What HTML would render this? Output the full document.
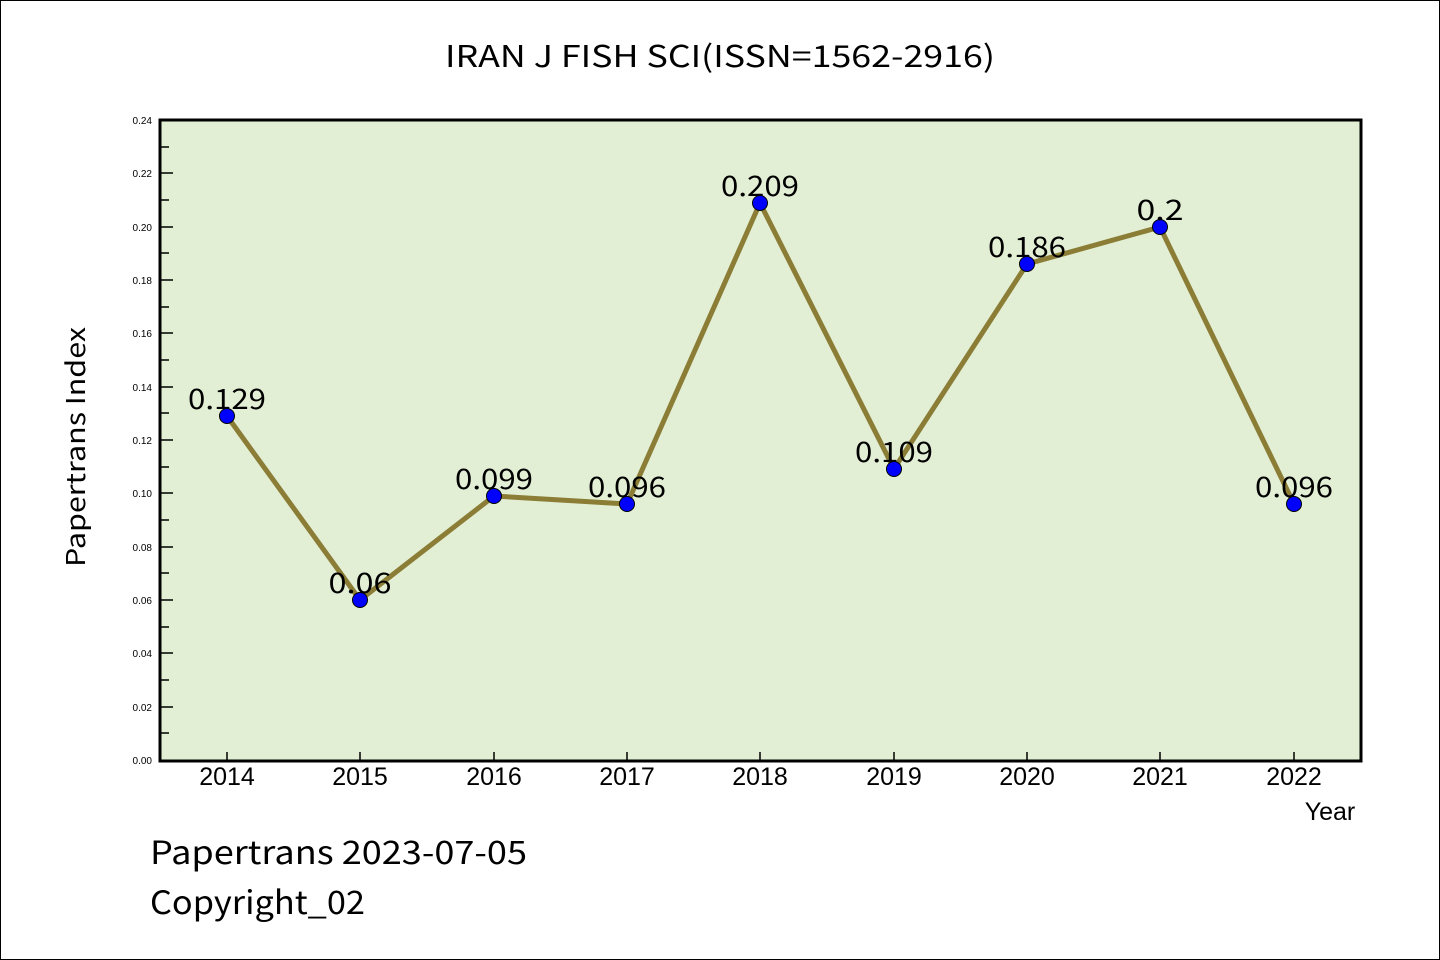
<!DOCTYPE html>
<html><head><meta charset="utf-8"><style>
html,body{margin:0;padding:0;background:#fff;}
svg{display:block;}
.m{font-family:"WenQuanYi Zen Hei","Noto Sans CJK SC",monospace;}
.s{font-family:"Liberation Sans",sans-serif;}
</style></head><body>
<svg width="1440" height="960" viewBox="0 0 1440 960" xmlns="http://www.w3.org/2000/svg">
<rect x="0.5" y="0.5" width="1439" height="959" fill="#fff" stroke="#000" stroke-width="1"/>
<text class="m" x="445" y="67" font-size="30" textLength="550" lengthAdjust="spacingAndGlyphs">IRAN J FISH SCI(ISSN=1562-2916)</text>
<rect x="160" y="120" width="1201" height="641" fill="#e2efd4"/>
<g stroke="#000" stroke-width="1.5">
<line x1="161" y1="147" x2="169" y2="147"/><line x1="161" y1="173" x2="173" y2="173"/>
<line x1="161" y1="200" x2="169" y2="200"/><line x1="161" y1="227" x2="173" y2="227"/>
<line x1="161" y1="253" x2="169" y2="253"/><line x1="161" y1="280" x2="173" y2="280"/>
<line x1="161" y1="307" x2="169" y2="307"/><line x1="161" y1="333" x2="173" y2="333"/>
<line x1="161" y1="360" x2="169" y2="360"/><line x1="161" y1="387" x2="173" y2="387"/>
<line x1="161" y1="413" x2="169" y2="413"/><line x1="161" y1="440" x2="173" y2="440"/>
<line x1="161" y1="467" x2="169" y2="467"/><line x1="161" y1="493" x2="173" y2="493"/>
<line x1="161" y1="520" x2="169" y2="520"/><line x1="161" y1="547" x2="173" y2="547"/>
<line x1="161" y1="573" x2="169" y2="573"/><line x1="161" y1="600" x2="173" y2="600"/>
<line x1="161" y1="627" x2="169" y2="627"/><line x1="161" y1="653" x2="173" y2="653"/>
<line x1="161" y1="680" x2="169" y2="680"/><line x1="161" y1="707" x2="173" y2="707"/>
<line x1="161" y1="733" x2="169" y2="733"/>
<line x1="227" y1="760" x2="227" y2="752"/><line x1="360" y1="760" x2="360" y2="752"/>
<line x1="494" y1="760" x2="494" y2="752"/><line x1="627" y1="760" x2="627" y2="752"/>
<line x1="760" y1="760" x2="760" y2="752"/><line x1="894" y1="760" x2="894" y2="752"/>
<line x1="1027" y1="760" x2="1027" y2="752"/><line x1="1160" y1="760" x2="1160" y2="752"/>
<line x1="1294" y1="760" x2="1294" y2="752"/>
</g>
<rect x="160" y="120" width="1201" height="641" fill="none" stroke="#000" stroke-width="3"/>
<g class="s" font-size="10" text-anchor="end">
<text x="152" y="124">0.24</text><text x="152" y="177">0.22</text><text x="152" y="231">0.20</text>
<text x="152" y="284">0.18</text><text x="152" y="337">0.16</text><text x="152" y="391">0.14</text>
<text x="152" y="444">0.12</text><text x="152" y="497">0.10</text><text x="152" y="551">0.08</text>
<text x="152" y="604">0.06</text><text x="152" y="657">0.04</text><text x="152" y="711">0.02</text>
<text x="152" y="764">0.00</text>
</g>
<g class="s" font-size="25" text-anchor="middle">
<text x="227" y="785">2014</text><text x="360" y="785">2015</text><text x="494" y="785">2016</text>
<text x="627" y="785">2017</text><text x="760" y="785">2018</text><text x="894" y="785">2019</text>
<text x="1027" y="785">2020</text><text x="1160" y="785">2021</text><text x="1294" y="785">2022</text>
<text x="1330" y="820">Year</text>
</g>
<text class="m" font-size="26" transform="translate(85,567) rotate(-90)" textLength="240" lengthAdjust="spacingAndGlyphs">Papertrans Index</text>
<polyline points="227,416 360,600 494,496 627,504 760,203 894,469 1027,264 1160,227 1294,504" fill="none" stroke="#8b7d36" stroke-width="5" stroke-linejoin="round"/>
<g fill="#0000ff" stroke="#000" stroke-width="1">
<circle cx="227" cy="416" r="7.5"/><circle cx="360" cy="600" r="7.5"/><circle cx="494" cy="496" r="7.5"/>
<circle cx="627" cy="504" r="7.5"/><circle cx="760" cy="203" r="7.5"/><circle cx="894" cy="469" r="7.5"/>
<circle cx="1027" cy="264" r="7.5"/><circle cx="1160" cy="227" r="7.5"/><circle cx="1294" cy="504" r="7.5"/>
</g>
<g class="m" font-size="28" text-anchor="middle">
<text x="227" y="409" textLength="78" lengthAdjust="spacingAndGlyphs">0.129</text>
<text x="360" y="593" textLength="63" lengthAdjust="spacingAndGlyphs">0.06</text>
<text x="494" y="489" textLength="78" lengthAdjust="spacingAndGlyphs">0.099</text>
<text x="627" y="497" textLength="78" lengthAdjust="spacingAndGlyphs">0.096</text>
<text x="760" y="196" textLength="78" lengthAdjust="spacingAndGlyphs">0.209</text>
<text x="894" y="462" textLength="78" lengthAdjust="spacingAndGlyphs">0.109</text>
<text x="1027" y="257" textLength="78" lengthAdjust="spacingAndGlyphs">0.186</text>
<text x="1160" y="220" textLength="47" lengthAdjust="spacingAndGlyphs">0.2</text>
<text x="1294" y="497" textLength="78" lengthAdjust="spacingAndGlyphs">0.096</text>
</g>
<text class="m" x="150" y="864" font-size="32" textLength="377" lengthAdjust="spacingAndGlyphs">Papertrans 2023-07-05</text>
<text class="m" x="150" y="914" font-size="32" textLength="215" lengthAdjust="spacingAndGlyphs">Copyright_02</text>
</svg>
</body></html>
